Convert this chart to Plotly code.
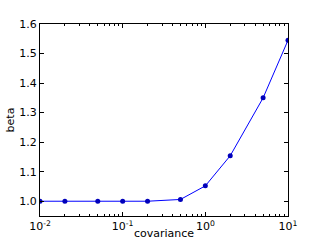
import plotly.graph_objects as go

covariance = [0.01, 0.02, 0.05, 0.1, 0.2, 0.5, 1, 2, 5, 10]
beta = [1.0, 1.0, 1.0, 1.0, 1.0, 1.006, 1.052, 1.154, 1.35, 1.545]

x_tickvals = [0.01, 0.1, 1, 10]
x_ticktext = ["10<sup>-2</sup>", "10<sup>-1</sup>", "10<sup>0</sup>", "10<sup>1</sup>"]
x_minor = [m * 10 ** e for e in (-2, -1, 0) for m in range(2, 10)]
y_tickvals = [1.0, 1.1, 1.2, 1.3, 1.4, 1.5, 1.6]
y_ticktext = ["1.0", "1.1", "1.2", "1.3", "1.4", "1.5", "1.6"]

fig = go.Figure()
fig.add_trace(go.Scatter(
    x=covariance, y=beta, mode="lines+markers",
    line=dict(color="#0000ff", width=1),
    marker=dict(color="#0000bb", size=5, line=dict(width=0)),
    showlegend=False,
))

font = dict(family="DejaVu Sans", size=11, color="black")
fig.update_layout(
    width=320, height=240,
    margin=dict(l=40, r=32, t=24, b=24),
    paper_bgcolor="white", plot_bgcolor="white",
    font=font,
)
fig.update_xaxes(
    type="log", range=[-2, 1], automargin=False,
    tickvals=x_tickvals, ticktext=x_ticktext,
    ticks="inside", ticklen=4, tickcolor="black", tickwidth=1,
    showline=True, linecolor="black", linewidth=1, mirror="ticks",
    showgrid=False, zeroline=False,
    minor=dict(tickvals=x_minor, ticks="inside", ticklen=2, tickcolor="black", showgrid=False),
    title=dict(text="covariance", standoff=7, font=font),
    tickfont=font,
)
fig.update_yaxes(
    range=[0.95, 1.6], automargin=False,
    tickvals=y_tickvals, ticktext=y_ticktext,
    ticks="inside", ticklen=4, tickcolor="black", tickwidth=1,
    showline=True, linecolor="black", linewidth=1, mirror="ticks",
    showgrid=False, zeroline=False,
    title=dict(text="beta", standoff=2, font=font),
    tickfont=font,
)
fig.write_html("out.html", config={"displayModeBar": False},
               post_script="document.body.style.margin='0';")
